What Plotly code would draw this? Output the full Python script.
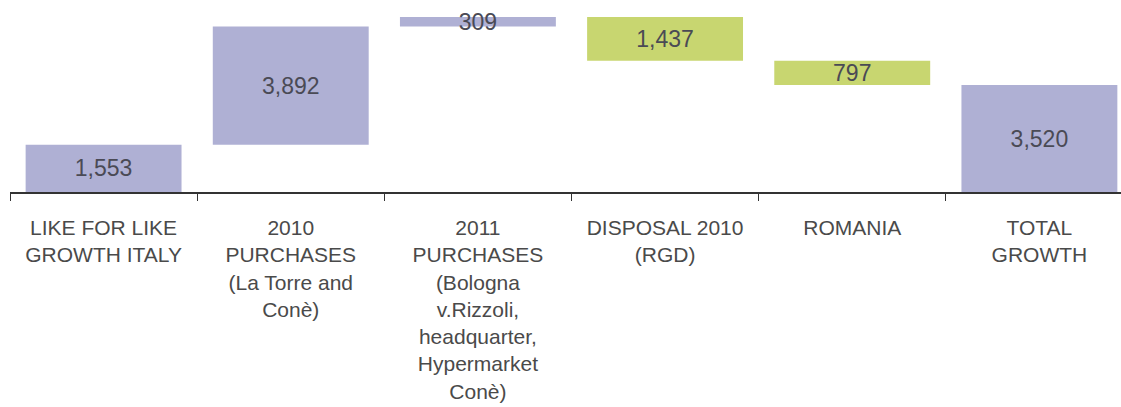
import plotly.graph_objects as go

# Bridge of sales-area growth by driver
categories = [
    "LIKE FOR LIKE<br>GROWTH ITALY",
    "2010<br>PURCHASES<br>(La Torre and<br>Conè)",
    "2011<br>PURCHASES<br>(Bologna<br>v.Rizzoli,<br>headquarter,<br>Hypermarket<br>Conè)",
    "DISPOSAL 2010<br>(RGD)",
    "ROMANIA",
    "TOTAL<br>GROWTH",
]
measures = ["relative", "relative", "relative", "relative", "relative", "total"]
deltas = [1553, 3892, 309, -1437, -797, 0]

total = sum(deltas[:-1])
labels = [f"{abs(v):,}" for v in deltas[:-1]] + [f"{total:,}"]

PURPLE = "#AFB0D4"
GREEN = "#C8D670"

fig = go.Figure(
    go.Waterfall(
        x=categories,
        y=deltas,
        measure=measures,
        text=labels,
        textposition="inside",
        insidetextanchor="middle",
        textfont=dict(family="Liberation Sans, Arial, sans-serif", size=23, color="#4A4A55"),
        increasing=dict(marker=dict(color=PURPLE, line=dict(width=0))),
        decreasing=dict(marker=dict(color=GREEN, line=dict(width=0))),
        totals=dict(marker=dict(color=PURPLE, line=dict(width=0))),
        connector=dict(visible=False),
        hoverinfo="skip",
    )
)

fig.update_layout(
    width=1121,
    height=407,
    margin=dict(l=10, r=0, t=0, b=215),
    paper_bgcolor="white",
    plot_bgcolor="white",
    showlegend=False,
    waterfallgap=0.167,
    uniformtext=dict(mode="show", minsize=23),
    font=dict(family="Liberation Sans, Arial, sans-serif", color="#4A4A4A"),
)

fig.update_xaxes(
    type="category",
    range=[-0.5, 5.436],
    showline=True,
    linecolor="#333333",
    linewidth=1.5,
    ticks="outside",
    tickson="boundaries",
    ticklen=7,
    tickwidth=1,
    tickcolor="#333333",
    tickfont=dict(size=21, color="#4A4A4A"),
    ticklabelstandoff=16,
    showgrid=False,
    zeroline=False,
)
fig.update_yaxes(visible=False, range=[0, 6316])

fig.write_html("out.html")
